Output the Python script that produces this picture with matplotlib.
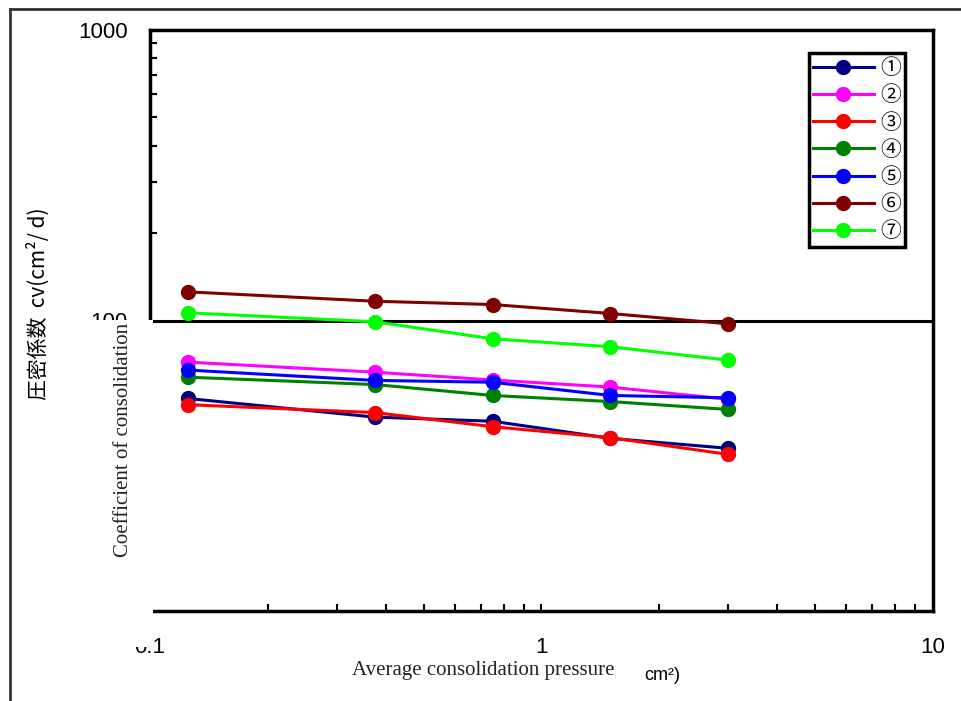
import matplotlib
matplotlib.use('Agg')
import matplotlib.pyplot as plt
from matplotlib.patches import Rectangle
from matplotlib.lines import Line2D
from matplotlib.ticker import NullFormatter, FixedLocator

# data
pressure = [0.125, 0.375, 0.75, 1.5, 3.0]
names = ['①', '②', '③', '④', '⑤', '⑥', '⑦']
colors = ['#000080', '#ff00ff', '#ff0000', '#008000', '#0000ff', '#800000', '#00ff00']
s1 = [53.9, 46.5, 45.0, 39.3, 36.3]
s2 = [71.9, 66.4, 62.4, 59.0, 53.5]
s3 = [51.3, 48.2, 43.1, 39.5, 34.6]
s4 = [63.8, 60.2, 55.2, 52.6, 49.4]
s5 = [67.5, 62.2, 61.3, 55.2, 54.2]
s6 = [125.5, 116.5, 113.5, 105.7, 97.4]
s7 = [106.3, 99.0, 86.5, 81.2, 73.0]
series = [s1, s2, s3, s4, s5, s6, s7]

W, H = 962, 701
fig = plt.figure(figsize=(W / 100, H / 100), dpi=100)
ax = fig.add_axes([150 / W, 1 - 611 / H, (933 - 150) / W, (611 - 30) / H])

ax.axhline(100, color='black', lw=2.2, zorder=1)
for name, c, ys in zip(names, colors, series):
    ax.plot(pressure, ys, color=c, lw=2.2, marker='o', markersize=10, label=name, zorder=3)

ax.set_xscale('log')
ax.set_yscale('log')
ax.set_xlim(0.1, 10)
ax.set_ylim(10, 1000)
ax.set_xticks([0.1, 1, 10], ['0.1', '1', '10'])
ax.set_yticks([10, 100, 1000], ['10', '100', '1000'])
ax.yaxis.set_minor_locator(FixedLocator([200, 300, 400, 500, 600, 700, 800, 900]))
ax.xaxis.set_minor_formatter(NullFormatter())
ax.yaxis.set_minor_formatter(NullFormatter())
ax.tick_params(which='both', direction='in', length=5, width=1.5, top=False, right=False)
ax.tick_params(axis='y', which='major', length=0)
ax.tick_params(axis='x', which='major', pad=19, labelsize=16)
ax.tick_params(axis='y', which='major', pad=16, labelsize=16)
for lab in ax.get_xticklabels() + ax.get_yticklabels():
    lab.set_family('Liberation Sans')
for sp in ax.spines.values():
    sp.set_linewidth(2.5)

leg = ax.legend(loc='upper right', bbox_to_anchor=(905 / W, 1 - 53 / H),
                bbox_transform=fig.transFigure, borderaxespad=0, fancybox=False,
                edgecolor='black', framealpha=1, handlelength=2.9, labelspacing=0.25,
                handletextpad=0.3, borderpad=0.2,
                prop={'family': ['Noto Sans CJK JP', 'DejaVu Sans'], 'size': 15})
leg.get_frame().set_linewidth(2.5)

# white patch over the lower left corner, as in the original
fig.patches.append(Rectangle((85 / W, 1 - 647 / H), (153 - 85) / W, (647 - 320) / H,
                             transform=fig.transFigure, facecolor='white',
                             edgecolor='none', zorder=2))

fig.text(124 / W, 1 - 440 / H, 'Coefficient of consolidation', rotation=90,
         ha='center', va='center', family='Liberation Serif', size=15, color='#222222', zorder=3)
fig.text(38 / W, 1 - 304 / H, '圧密係数  cv(cm²/ d)', rotation=90, ha='center', va='center',
         family=['Noto Sans CJK JP', 'DejaVu Sans'], size=15)
fig.text(483 / W, 1 - 671 / H, 'Average consolidation pressure', ha='center', va='center',
         family='Liberation Serif', size=15, color='#222222')
fig.text(662 / W, 1 - 676 / H, 'cm²)', ha='center', va='center',
         family='Liberation Sans', size=13)

# outer frame lines (left and top)
fig.add_artist(Line2D([10 / W, 10 / W], [0, 1 - 9 / H], transform=fig.transFigure,
                      color='#333333', lw=2))
fig.add_artist(Line2D([10 / W, 1], [1 - 9 / H, 1 - 9 / H], transform=fig.transFigure,
                      color='#333333', lw=2))

fig.savefig('out.png', dpi=100)
